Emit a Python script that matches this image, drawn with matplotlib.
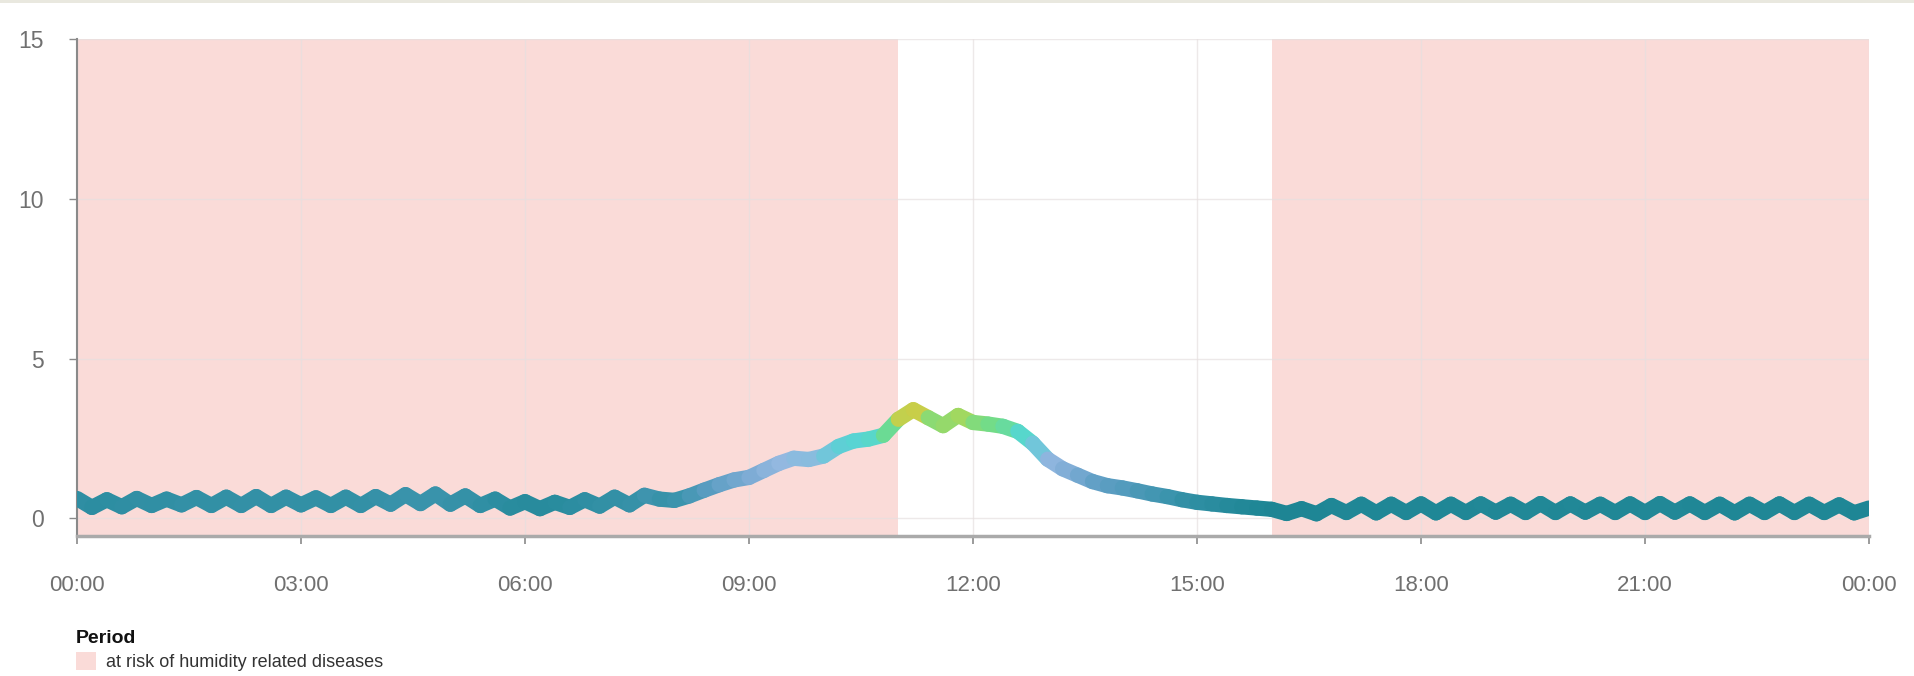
import numpy as np
import matplotlib.pyplot as plt
from matplotlib.collections import LineCollection
from matplotlib.colors import LinearSegmentedColormap
from matplotlib.patches import Patch, Rectangle

plt.rcParams["font.family"] = ["Liberation Sans", "DejaVu Sans"]

# ── data: one reading every 12 minutes over the day (hours) ──────────
hours = np.linspace(0, 24, 121)
values = [
    0.62, 0.34, 0.58, 0.36, 0.62, 0.40, 0.60, 0.42, 0.65, 0.40,
    0.66, 0.40, 0.68, 0.40, 0.66, 0.42, 0.64, 0.40, 0.66, 0.40,
    0.68, 0.44, 0.74, 0.46, 0.76, 0.44, 0.70, 0.40, 0.60, 0.32,
    0.52, 0.30, 0.50, 0.34, 0.58, 0.38, 0.66, 0.42, 0.72, 0.60,
    0.56, 0.70, 0.88, 1.05, 1.20, 1.28, 1.50, 1.72, 1.88, 1.84,
    1.95, 2.25, 2.42, 2.48, 2.60, 3.10, 3.40, 3.15, 2.90, 3.22,
    3.00, 2.95, 2.88, 2.72, 2.35, 1.85, 1.55, 1.35, 1.15, 1.02,
    0.95, 0.86, 0.76, 0.68, 0.58, 0.50, 0.45, 0.40, 0.36, 0.32,
    0.28, 0.15, 0.30, 0.14, 0.40, 0.18, 0.44, 0.17, 0.44, 0.18,
    0.45, 0.17, 0.44, 0.18, 0.45, 0.19, 0.44, 0.18, 0.46, 0.18,
    0.45, 0.19, 0.44, 0.18, 0.45, 0.18, 0.46, 0.19, 0.45, 0.18,
    0.44, 0.17, 0.44, 0.18, 0.45, 0.18, 0.44, 0.18, 0.42, 0.17,
    0.32,
]

risk_periods = [(0, 11), (16, 24)]
risk_label = "at risk of humidity related diseases"

tick_hours = [0, 3, 6, 9, 12, 15, 18, 21, 24]
tick_labels = ["00:00", "03:00", "06:00", "09:00", "12:00",
               "15:00", "18:00", "21:00", "00:00"]
y_ticks = [0, 5, 10, 15]

# colour scale used by the line (value -> colour)
scale_stops = [0.0, 0.3, 0.6, 1.0, 1.4, 1.8, 2.2, 2.5, 2.9, 3.15, 3.4]
scale_colors = ["#1a8090", "#1f8796", "#3993ab", "#5b9dc2", "#7fadd6",
                "#93b8e0", "#66cad8", "#55d6d2", "#6edc8c", "#a8d85a",
                "#e6c43a"]

PINK = "#fadbd8"


def main():
    fig = plt.figure(figsize=(19.15, 6.76), dpi=100)
    ax = fig.add_axes([0.0402, 0.2064, 0.9358, 0.7355])

    # shaded risk periods
    for start, end in risk_periods:
        ax.axvspan(start, end, color=PINK, lw=0, zorder=0)

    # gradient line
    vmax = scale_stops[-1]
    cmap = LinearSegmentedColormap.from_list(
        "humid", [(s / vmax, c) for s, c in zip(scale_stops, scale_colors)])
    pts = np.column_stack([hours, values]).reshape(-1, 1, 2)
    segs = np.concatenate([pts[:-1], pts[1:]], axis=1)
    seg_vals = (np.array(values[:-1]) + np.array(values[1:])) / 2
    lc = LineCollection(segs, cmap=cmap, norm=plt.Normalize(0, vmax),
                        linewidths=11, capstyle="round", joinstyle="round",
                        zorder=3)
    lc.set_array(seg_vals)
    ax.add_collection(lc)

    ax.set_xlim(0, 24)
    ax.set_ylim(-0.57, 15)
    ax.set_xticks(tick_hours)
    ax.set_xticklabels(tick_labels)
    ax.set_yticks(y_ticks)

    ax.grid(True, color="#e6e0e0", lw=1, alpha=0.7, zorder=1)
    ax.set_axisbelow(True)
    for side in ("top", "right"):
        ax.spines[side].set_visible(False)
    ax.spines["left"].set_color("#8a8a8a")
    ax.spines["left"].set_linewidth(1.5)
    ax.spines["bottom"].set_color("#aaaaaa")
    ax.spines["bottom"].set_linewidth(2.5)

    ax.tick_params(axis="y", length=6, width=1, color="#8a8a8a",
                   labelsize=16.5, labelcolor="#707070", pad=18)
    ax.tick_params(axis="x", length=6, width=1.2, color="#8a8a8a",
                   labelsize=16, labelcolor="#707070", pad=22)

    # legend below the chart
    handle = Patch(facecolor=PINK, edgecolor="none", label=risk_label)
    leg = fig.legend(handles=[handle], title="Period", loc="upper left",
                     bbox_to_anchor=(0.0395, 0.068), frameon=False,
                     fontsize=13, handlelength=1.1, handleheight=1.1,
                     handletextpad=0.6, borderaxespad=0, borderpad=0,
                     labelspacing=0.3, alignment="left",
                     title_fontproperties={"weight": "bold", "size": 14})
    leg.get_title().set_color("#111111")
    for t in leg.get_texts():
        t.set_color("#333333")

    # thin band along the top edge of the page
    fig.patches.append(Rectangle((0, 0.996), 1, 0.004, transform=fig.transFigure,
                                 facecolor="#e9e8df", edgecolor="none"))

    fig.savefig("out.png", dpi=100)
    plt.close(fig)


if __name__ == "__main__":
    main()
